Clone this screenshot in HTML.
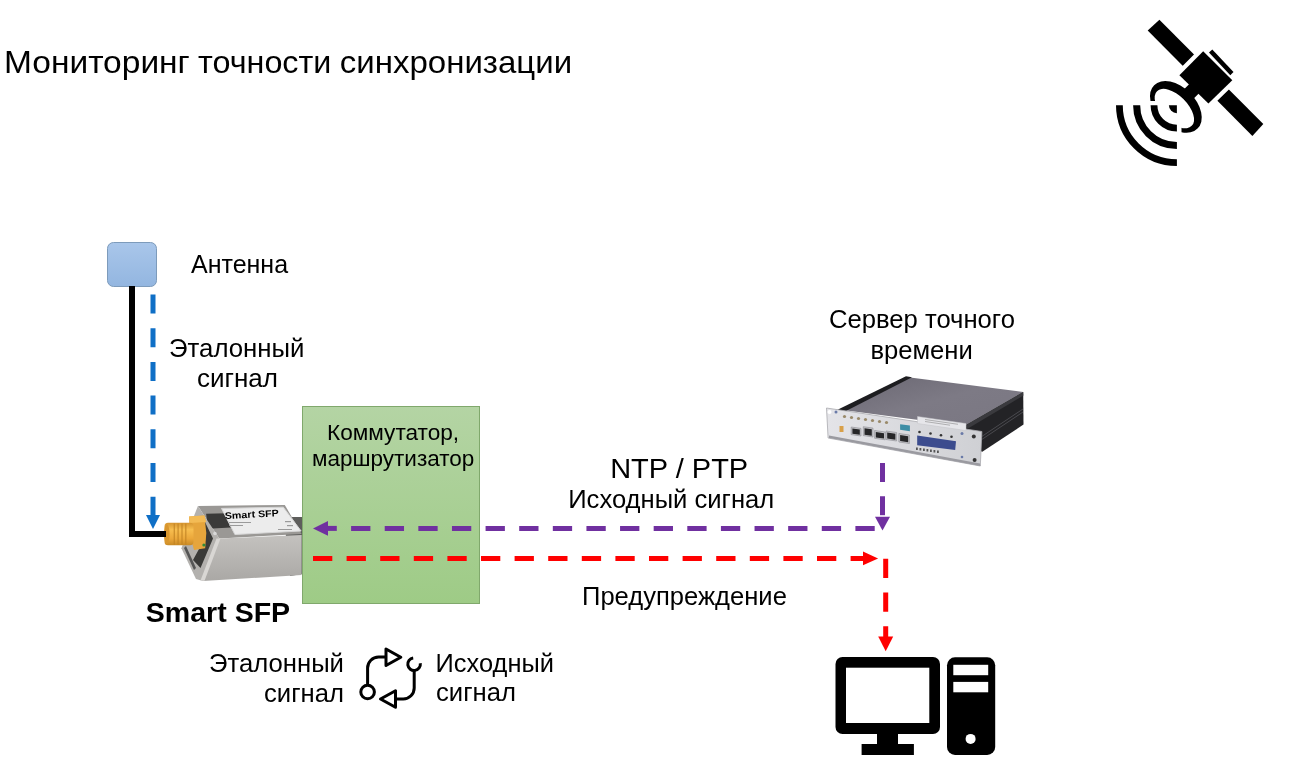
<!DOCTYPE html>
<html><head><meta charset="utf-8">
<style>
html,body{margin:0;padding:0;background:#fff;width:1297px;height:775px;overflow:hidden}
svg{position:absolute;left:0;top:0;display:block;will-change:transform}
text{font-family:"Liberation Sans",sans-serif;fill:#000}
</style></head>
<body>
<svg width="1297" height="775" viewBox="0 0 1297 775">
<defs>
 <linearGradient id="gbox" x1="0" y1="0" x2="0" y2="1">
  <stop offset="0" stop-color="#b4d4a4"/><stop offset="1" stop-color="#9ecb86"/>
 </linearGradient>
 <linearGradient id="gant" x1="0" y1="0" x2="0" y2="1">
  <stop offset="0" stop-color="#a9c6ea"/><stop offset="1" stop-color="#93b6e0"/>
 </linearGradient>
</defs>
<rect width="1297" height="775" fill="#fff"/>


<!-- satellite -->
<defs>
 <clipPath id="dishclip"><polygon points="1090,0 1297,0 1297,200 1181.5,200 1181.5,101 1090,101"/></clipPath>
</defs>
<g id="sat">
 <polygon points="1147.7,30.6 1159.4,19.7 1263.3,124 1252.4,136.1" fill="#000"/>
 <g clip-path="url(#dishclip)">
  <path d="M1154.18 85.23 A30.65 19.5 45 1 0 1197.52 128.57 A30.65 19.5 45 1 0 1154.18 85.23 Z" fill="none" stroke="#fff" stroke-width="7"/>
  <path d="M1154.18 85.23 A30.65 19.5 45 1 0 1197.52 128.57 A30.65 19.5 45 1 0 1154.18 85.23 Z M1157.03 91.23 A24.5 12.8 45 1 0 1191.67 125.87 A24.5 12.8 45 1 0 1157.03 91.23 Z" fill="#000" fill-rule="evenodd"/>
 </g>
 <polygon points="1203.2,51.3 1232.3,80.3 1208.4,103.5 1179.4,75.2" fill="#000" stroke="#fff" stroke-width="8.5" paint-order="stroke" stroke-linejoin="miter"/>
 <polygon points="1189.8,83.4 1199.5,92.8 1193.5,98.8 1183.8,89.4" fill="#000"/>
 <polygon points="1209,52.6 1212.3,49.4 1233.5,71.9 1230.3,75.2" fill="#000"/>
 <path d="M1154.00 105.20 A22.90 22.90 0 0 0 1176.90 128.10" fill="none" stroke="#000" stroke-width="6.80"/>
 <path d="M1136.65 105.20 A40.25 40.25 0 0 0 1176.90 145.45" fill="none" stroke="#000" stroke-width="7.10"/>
 <path d="M1119.40 105.20 A57.50 57.50 0 0 0 1176.90 162.70" fill="none" stroke="#000" stroke-width="6.80"/>
 <path d="M1176.9 105.2 H1168.9 A8 8 0 0 0 1176.9 113.2 Z" fill="#000"/>
</g>

<!-- SFP module -->
<defs>
 <linearGradient id="gold" x1="0" y1="0" x2="0" y2="1">
  <stop offset="0" stop-color="#d69530"/><stop offset="0.3" stop-color="#f7be50"/><stop offset="0.7" stop-color="#eba73a"/><stop offset="1" stop-color="#c88a26"/>
 </linearGradient>
 <linearGradient id="sfpfront" x1="0" y1="0" x2="0" y2="1">
  <stop offset="0" stop-color="#c4c2bf"/><stop offset="1" stop-color="#aaa8a5"/>
 </linearGradient>
</defs>
<g id="sfp">
 <polygon points="284,517 302,517 302,574 290,576" fill="#5e5e5c"/>
 <polygon points="197.9,506 284.8,504.9 301.6,534 219.3,538.4" fill="#9a9895"/>
 <polygon points="206.1,513.7 226.9,513.2 231,527.6 208,528.8" fill="#3a3a39"/>
 <polygon points="221.5,508.4 283.3,507.2 301.1,531 234.9,534.5" fill="#ececec" stroke="#d6d6d6" stroke-width="1" stroke-linejoin="round"/>
 <text x="225" y="519" font-size="9.5" font-weight="bold" textLength="54" lengthAdjust="spacingAndGlyphs" transform="rotate(-3 225 519)" fill="#111">Smart SFP</text>
 <g fill="#9a9a9a"><rect x="229" y="522" width="22" height="1"/><rect x="229" y="525" width="14" height="1"/><rect x="285" y="521" width="6" height="1.2"/><rect x="287" y="525" width="6" height="1.2"/><rect x="278" y="529" width="14" height="1"/></g>
 <polygon points="219.3,538.4 301.6,535.1 301.6,575.1 203,581" fill="url(#sfpfront)"/>
 <polygon points="197.9,506 219.3,538.4 203,581 196,579 181.4,548.3" fill="#b3b1ae"/>
 <polygon points="205,522 213,538.5 200.5,568 193,560 205,538" fill="#3a3a38"/><polygon points="184,548 186,546 196,568 194,570" fill="#555"/>
 <polygon points="216.5,538.6 220.5,538.4 204.5,580.8 200.5,580.5" fill="#d9d7d4"/>
 <circle cx="214.9" cy="533.5" r="1.8" fill="#d8d8d8"/>
 <polygon points="189.1,516.5 204.4,515.4 206.3,532.9 205.2,548.3 194,549.9 189.6,532.9" fill="#e6a53c"/>
 <polygon points="189.1,516.5 204.4,515.4 206.3,522 190,523" fill="#f3bb55"/>
 <rect x="164.5" y="522.8" width="29" height="22.5" rx="3.5" fill="url(#gold)"/>
 <g stroke="#c28424" stroke-width="1.3" opacity="0.8">
  <line x1="174.3" y1="523.5" x2="174.3" y2="544.8"/><line x1="178.1" y1="523.5" x2="178.1" y2="544.8"/>
  <line x1="182" y1="523.5" x2="182" y2="544.8"/><line x1="185.8" y1="523.5" x2="185.8" y2="544.8"/>
 </g>
 <ellipse cx="166.8" cy="534" rx="2.8" ry="10" fill="#d8962e"/>
 <circle cx="203.9" cy="545" r="1.6" fill="#2f8a3a"/>
</g>

<!-- server -->
<defs>
 <linearGradient id="srvtop" x1="0" y1="0" x2="1" y2="1">
  <stop offset="0" stop-color="#6a6772"/><stop offset="0.5" stop-color="#7d7a85"/><stop offset="1" stop-color="#7a7782"/>
 </linearGradient>
 <linearGradient id="srvfront" x1="0" y1="0" x2="1" y2="0">
  <stop offset="0" stop-color="#e4e4e8"/><stop offset="1" stop-color="#cfd0d4"/>
 </linearGradient>
</defs>
<g id="server">
 <polygon points="841,409.7 908.2,377.3 1023.2,391.9 964.1,425.9" fill="url(#srvtop)"/>
 <polygon points="837,410 906,376.3 912,377.2 845,411.5" fill="#1d1d20"/>
 <polygon points="964.1,425.9 1023.2,391.9 1023.5,424.5 981.9,452" fill="#232326"/>
 <polygon points="964.1,425.9 1023.2,391.9 1023.4,395.5 968,428.5" fill="#3a3a3e"/>
 <g stroke="#4a4a4f" stroke-width="1">
  <line x1="981" y1="437" x2="1023" y2="409"/><line x1="981" y1="440" x2="1023" y2="412"/>
 </g>
 <polygon points="826.5,408 981.9,431.5 980.3,466 828.1,438" fill="url(#srvfront)" stroke="#a9a9ae" stroke-width="0.8"/>
 <polygon points="829,438 980.3,466 980,463.5 829,435.6" fill="#9a9aa0"/>
 <polygon points="917.5,416.5 966,423.6 966,430.5 917.5,423.5" fill="#e6e6ea" stroke="#c4c4c8" stroke-width="0.5"/>
 <g stroke="#888" stroke-width="0.6"><line x1="925" y1="419.5" x2="958" y2="424.3"/><line x1="925" y1="421.5" x2="950" y2="425.2"/></g>
 <g fill="#c4c4c8" stroke="#8a8a90" stroke-width="0.6">
  <polygon points="851.2,427 861,428.4 861,436 851.2,434.6"/>
  <polygon points="863.3,426.7 873,428.1 873,437 863.3,435.6"/>
  <polygon points="874.6,430.5 885.2,432 885.2,439.8 874.6,438.3"/>
  <polygon points="886,431 896.6,432.5 896.6,441 886,439.5"/>
  <polygon points="898.9,433.5 909.4,435 909.4,443.5 898.9,442"/>
 </g>
 <g fill="#262628">
  <polygon points="852.4,428.5 859.8,429.6 859.8,434.8 852.4,433.7"/>
  <polygon points="864.5,428.2 871.8,429.3 871.8,435.8 864.5,434.7"/>
  <polygon points="875.8,432 884,433.2 884,438.6 875.8,437.4"/>
  <polygon points="887.2,432.5 895.4,433.7 895.4,439.8 887.2,438.6"/>
  <polygon points="900.1,435 908.2,436.2 908.2,442.3 900.1,441.1"/>
 </g>
 <polygon points="900.1,424.2 909.9,425.6 909.9,431.2 900.1,429.8" fill="#3d8ea6"/>
 <polygon points="917.2,435.6 956,441.2 955.2,450.1 917.2,445.3" fill="#3c4c8e"/>
 <g fill="#333">
  <circle cx="919.5" cy="432" r="1.3"/><circle cx="930.5" cy="433.5" r="1.3"/><circle cx="941" cy="435.2" r="1.3"/><circle cx="951.5" cy="436.8" r="1.3"/>
  <circle cx="973.8" cy="436.4" r="2"/><circle cx="974.6" cy="459.9" r="2"/>
 </g>
 <g fill="#555">
  <rect x="916" y="447.5" width="1.8" height="2.5"/><rect x="919.5" y="448" width="1.8" height="2.5"/><rect x="923" y="448.5" width="1.8" height="2.5"/>
  <rect x="926.5" y="449" width="1.8" height="2.5"/><rect x="930" y="449.5" width="1.8" height="2.5"/><rect x="933.5" y="450" width="1.8" height="2.5"/><rect x="937" y="450.5" width="1.8" height="2.5"/>
 </g>
 <g fill="#9a8a6a">
  <circle cx="844.5" cy="416.5" r="1.6"/><circle cx="851.5" cy="417.5" r="1.6"/><circle cx="858.5" cy="418.5" r="1.6"/>
  <circle cx="865.5" cy="419.5" r="1.6"/><circle cx="872.5" cy="420.5" r="1.6"/><circle cx="879.5" cy="421.5" r="1.6"/><circle cx="886.5" cy="422.5" r="1.6"/>
 </g>
 <circle cx="829.5" cy="412" r="2" fill="#fff"/>
 <rect x="839.5" y="426" width="4" height="6" fill="#d8a04a"/>
 <circle cx="836" cy="412" r="1.5" fill="#6a7aa8"/>
 <circle cx="962" cy="433.5" r="1.5" fill="#6a7aa8"/><circle cx="962" cy="457" r="1.3" fill="#6a7aa8"/>
</g>

<!-- title -->
<text x="4.00" y="73" font-size="31.5" textLength="185.84" lengthAdjust="spacingAndGlyphs">Мониторинг</text>
<text x="198.00" y="73" font-size="31.5" textLength="133.36" lengthAdjust="spacingAndGlyphs">точности</text>
<text x="339.80" y="73" font-size="31.5" textLength="232.30" lengthAdjust="spacingAndGlyphs">синхронизации</text>

<!-- antenna -->
<rect x="107.5" y="242.5" width="49" height="44" rx="6" fill="url(#gant)" stroke="#7d9bbb" stroke-width="1"/>
<text x="191.00" y="273" font-size="25" textLength="97.08" lengthAdjust="spacingAndGlyphs">Антенна</text>
<path d="M132 286 V534 H166" fill="none" stroke="#000" stroke-width="6"/>
<line x1="153" y1="294.5" x2="153" y2="516" stroke="#0f6fc6" stroke-width="5" stroke-dasharray="19 14.7"/>
<polygon points="146,515 160,515 153,529" fill="#0f6fc6"/>
<text x="169.00" y="356.5" font-size="25" textLength="135.48" lengthAdjust="spacingAndGlyphs">Эталонный</text>
<text x="197.00" y="386.7" font-size="25" textLength="81.01" lengthAdjust="spacingAndGlyphs">сигнал</text>

<!-- green box -->
<rect x="302.5" y="406.5" width="177" height="197" fill="url(#gbox)" stroke="#80a86c" stroke-width="1"/>
<text x="327.00" y="440" font-size="22" textLength="132.15" lengthAdjust="spacingAndGlyphs">Коммутатор,</text>
<text x="312.00" y="466" font-size="22" textLength="162.31" lengthAdjust="spacingAndGlyphs">маршрутизатор</text>

<text x="145.80" y="621.6" font-size="28" font-weight="bold" textLength="144.37" lengthAdjust="spacingAndGlyphs">Smart SFP</text>
<text x="610.20" y="478" font-size="28" textLength="138.01" lengthAdjust="spacingAndGlyphs">NTP / PTP</text>
<text x="568.20" y="507.6" font-size="25" textLength="206.08" lengthAdjust="spacingAndGlyphs">Исходный сигнал</text>
<text x="582.00" y="605" font-size="25" textLength="204.86" lengthAdjust="spacingAndGlyphs">Предупреждение</text>
<text x="829.00" y="328.3" font-size="25" textLength="185.92" lengthAdjust="spacingAndGlyphs">Сервер точного</text>
<text x="870.40" y="359" font-size="25" textLength="102.43" lengthAdjust="spacingAndGlyphs">времени</text>
<text x="209.00" y="671.8" font-size="25" textLength="134.97" lengthAdjust="spacingAndGlyphs">Эталонный</text>
<text x="264.00" y="701.7" font-size="25" textLength="79.97" lengthAdjust="spacingAndGlyphs">сигнал</text>
<text x="435.60" y="672" font-size="25" textLength="118.36" lengthAdjust="spacingAndGlyphs">Исходный</text>
<text x="436.00" y="701.4" font-size="25" textLength="79.97" lengthAdjust="spacingAndGlyphs">сигнал</text>

<!-- purple line -->
<line x1="351.1" y1="528.4" x2="875" y2="528.4" stroke="#7030a0" stroke-width="5" stroke-dasharray="19.3 14.32"/>
<line x1="326" y1="528.4" x2="336.8" y2="528.4" stroke="#7030a0" stroke-width="5"/>
<polygon points="313,528.4 328,521 328,535.8" fill="#7030a0"/>
<line x1="882.5" y1="463" x2="882.5" y2="518" stroke="#7030a0" stroke-width="5" stroke-dasharray="19 14.2"/>
<polygon points="875,516.7 890,516.7 882.5,530.5" fill="#7030a0"/>

<!-- red line -->
<line x1="313" y1="558.4" x2="864" y2="558.4" stroke="#ff0000" stroke-width="5" stroke-dasharray="19.3 14.3"/>
<polygon points="863,551.5 878.1,558.4 863,565.3" fill="#ff0000"/>
<line x1="885.7" y1="558.7" x2="885.7" y2="638" stroke="#ff0000" stroke-width="5" stroke-dasharray="19.2 14.6"/>
<polygon points="878.2,636.6 893.2,636.6 885.7,651.3" fill="#ff0000"/>

<!-- computer -->
<g id="pc">
 <rect x="835.5" y="657" width="104.5" height="77" rx="7" fill="#000"/>
 <rect x="846" y="667.7" width="83.3" height="55.3" fill="#fff"/>
 <rect x="877" y="733" width="21" height="12" fill="#000"/>
 <rect x="861.6" y="744" width="52.3" height="11" fill="#000"/>
 <rect x="947" y="657.3" width="48.2" height="97.6" rx="8" fill="#000"/>
 <rect x="953.3" y="664.8" width="34.9" height="10.4" fill="#fff"/>
 <rect x="953.3" y="681.9" width="34.9" height="10.4" fill="#fff"/>
 <circle cx="970.6" cy="738.9" r="5" fill="#fff"/>
</g>

<!-- cycle icon -->
<g fill="none" stroke="#000" stroke-width="3" stroke-linejoin="round">
 <circle cx="367.6" cy="692" r="6.8"/>
 <path d="M367.6 685.2 V668 A11 11 0 0 1 378.6 657 H386"/>
 <polygon points="386,649 386,665.5 400.8,657.3"/>
 <path d="M420.3 663.2 A6.3 6.3 0 1 1 413.2 657.9"/>
 <path d="M414.2 670.5 V688 A11 11 0 0 1 403.2 699 H395.5"/>
 <polygon points="395.5,690.8 395.5,707.3 380.5,699"/>
</g>

</svg>
</body></html>
